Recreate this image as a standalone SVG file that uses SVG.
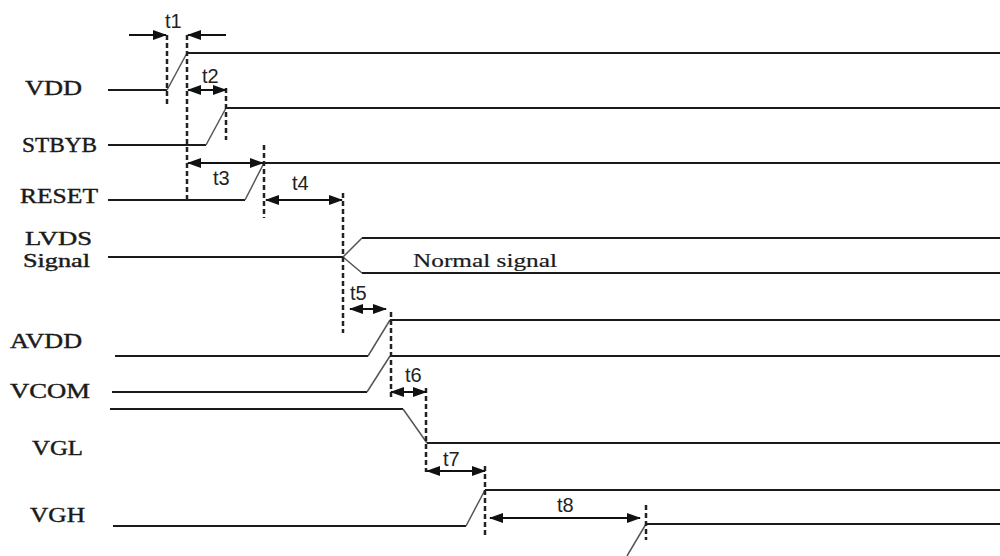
<svg xmlns="http://www.w3.org/2000/svg" width="1000" height="556" viewBox="0 0 1000 556">
<defs>
<marker id="ah" markerUnits="userSpaceOnUse" markerWidth="14" markerHeight="10" viewBox="0 0 14 10" refX="13" refY="5" orient="auto-start-reverse">
<path d="M0,0 L14,5 L0,10 Z" fill="#111"/>
</marker>
</defs>
<style>
.sig{fill:none;stroke:#1a1a1a;stroke-width:2}
.ramp{fill:none;stroke:#555;stroke-width:1.5}
.lbl{font-family:"Liberation Serif","Times New Roman",serif;font-size:20px;fill:#1a1a1a;stroke:#1a1a1a;stroke-width:0.4}
.sm{font-size:18px}
.tl{font-family:"Liberation Sans",Arial,sans-serif;font-size:20px;fill:#222}
.dash{stroke:#222;stroke-width:2.5;stroke-dasharray:5 3;fill:none}
.arr{stroke:#111;stroke-width:2;fill:none}
.both{marker-start:url(#ah);marker-end:url(#ah)}
.one{marker-end:url(#ah)}
</style>
<rect width="1000" height="556" fill="#fff"/>
<g id="VDD">
<text class="lbl" x="25" y="95" textLength="57" lengthAdjust="spacingAndGlyphs">VDD</text>
<path class="sig" d="M108,90 H167"/>
<path class="ramp" d="M167,90 L187,53"/>
<path class="sig" d="M187,53 H1000"/>
</g>
<g id="STBYB">
<text class="lbl" x="22" y="152" textLength="75" lengthAdjust="spacingAndGlyphs">STBYB</text>
<path class="sig" d="M108,145 H206"/>
<path class="ramp" d="M206,145 L226,108"/>
<path class="sig" d="M226,108 H1000"/>
</g>
<g id="RESET">
<text class="lbl" x="20" y="203" textLength="78" lengthAdjust="spacingAndGlyphs">RESET</text>
<path class="sig" d="M108,200 H245"/>
<path class="ramp" d="M245,200 L264,163"/>
<path class="sig" d="M264,163 H1000"/>
</g>
<g id="LVDS">
<text class="lbl sm" x="25" y="245" textLength="67" lengthAdjust="spacingAndGlyphs">LVDS</text>
<text class="lbl sm" x="23" y="267" textLength="67" lengthAdjust="spacingAndGlyphs">Signal</text>
<path class="sig" d="M108,257 H343"/>
<path class="ramp" d="M343,257 L362,238 M343,257 L362,273"/>
<path class="sig" d="M362,238 H1000 M362,273 H1000"/>
<text class="lbl" x="413" y="267" textLength="144" lengthAdjust="spacingAndGlyphs" style="font-size:19px;stroke-width:0.2">Normal signal</text>
</g>
<g id="AVDD">
<text class="lbl" x="10" y="348" textLength="72" lengthAdjust="spacingAndGlyphs">AVDD</text>
<path class="sig" d="M115,356 H368"/>
<path class="ramp" d="M368,356 L390,320"/>
<path class="sig" d="M390,320 H1000"/>
</g>
<g id="VCOM">
<text class="lbl" x="10" y="398" textLength="80" lengthAdjust="spacingAndGlyphs">VCOM</text>
<path class="sig" d="M112,392 H367"/>
<path class="ramp" d="M367,392 L390,356"/>
<path class="sig" d="M390,356 H1000"/>
</g>
<g id="VGL">
<text class="lbl" x="32" y="455" textLength="51" lengthAdjust="spacingAndGlyphs">VGL</text>
<path class="sig" d="M110,409 H403"/>
<path class="ramp" d="M403,409 L427,443"/>
<path class="sig" d="M427,443 H1000"/>
</g>
<g id="VGH">
<text class="lbl" x="30" y="522" textLength="55" lengthAdjust="spacingAndGlyphs">VGH</text>
<path class="sig" d="M113,526 H466"/>
<path class="ramp" d="M466,526 L485,490"/>
<path class="sig" d="M485,490 H1000"/>
<path class="ramp" d="M627,556 L646,524"/>
<path class="sig" d="M646,524 H1000"/>
</g>
<g id="connectors">
<path class="dash" d="M167,35 V105"/>
<path class="dash" d="M187,35 V202"/>
<path class="dash" d="M226,88 V140"/>
<path class="dash" d="M264,145 V218"/>
<path class="dash" d="M343,193 V333"/>
<path class="dash" d="M391,312 V397"/>
<path class="dash" d="M426,388 V472"/>
<path class="dash" d="M485,466 V537"/>
<path class="dash" d="M646,505 V540"/>
<line class="arr one" x1="129" y1="35" x2="166" y2="35"/>
<line class="arr one" x1="226" y1="35" x2="188" y2="35"/>
<line class="arr both" x1="188" y1="90" x2="226" y2="90"/>
<line class="arr both" x1="188" y1="163" x2="263" y2="163"/>
<line class="arr both" x1="266" y1="200" x2="342" y2="200"/>
<line class="arr both" x1="350" y1="309" x2="386" y2="309"/>
<line class="arr both" x1="391" y1="392" x2="426" y2="392"/>
<line class="arr both" x1="427" y1="471" x2="485" y2="471"/>
<line class="arr both" x1="490" y1="518" x2="640" y2="518"/>
<text class="tl" x="165" y="28">t1</text>
<text class="tl" x="202" y="83">t2</text>
<text class="tl" x="213" y="185">t3</text>
<text class="tl" x="292" y="190">t4</text>
<text class="tl" x="350" y="300">t5</text>
<text class="tl" x="405" y="382">t6</text>
<text class="tl" x="443" y="466">t7</text>
<text class="tl" x="557" y="512">t8</text>
</g>
</svg>
